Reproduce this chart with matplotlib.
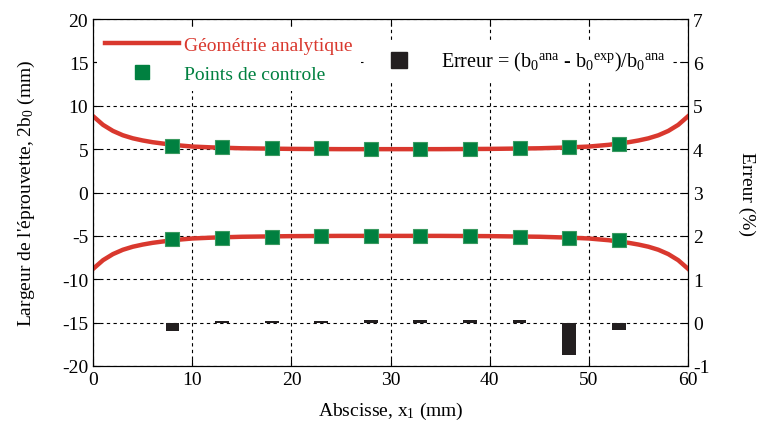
import matplotlib.pyplot as plt
from matplotlib.lines import Line2D

plt.rcParams['font.family'] = ['Liberation Serif', 'DejaVu Serif']
plt.rcParams['mathtext.fontset'] = 'custom'
plt.rcParams['mathtext.rm'] = 'Liberation Serif'
plt.rcParams['mathtext.it'] = 'Liberation Serif'
plt.rcParams['axes.unicode_minus'] = False

# analytic half-width b0 along the specimen
x_curve = [0, 1, 2, 3, 4, 5, 6, 8, 10, 12, 15, 20, 25, 30, 35, 40, 45,
           48, 50, 52, 54, 55, 56, 57, 58, 59, 60]
b0_curve = [8.8, 7.8, 7.1, 6.6, 6.25, 6.0, 5.8, 5.5, 5.3, 5.2, 5.1, 5.03, 5.0,
            5.0, 5.0, 5.03, 5.1, 5.2, 5.3, 5.5, 5.8, 6.0, 6.25, 6.6, 7.1, 7.8, 8.8]

# control points (upper and lower edge)
x_pts = [8, 13, 18, 23, 28, 33, 38, 43, 48, 53]
upper_pts = [5.4, 5.2, 5.1, 5.1, 5.0, 5.0, 5.05, 5.1, 5.2, 5.6]
lower_pts = [-5.4, -5.2, -5.1, -5.0, -5.0, -5.0, -5.0, -5.1, -5.2, -5.5]

# relative error (%)
erreur = [-0.19, 0.04, 0.04, 0.04, 0.07, 0.06, 0.06, 0.07, -0.75, -0.18]

red = '#d9382e'
green = '#008040'

fig = plt.figure(figsize=(7.57, 4.31), dpi=100)
ax = fig.add_axes([0.123, 0.1485, 0.786, 0.805])
ax2 = ax.twinx()

ax.plot(x_curve, b0_curve, color=red, lw=3.2, zorder=3)
ax.plot(x_curve, [-v for v in b0_curve], color=red, lw=3.2, zorder=3)
ax.plot(x_pts, upper_pts, 's', color=green, mec='#3a9a60', mew=0.8, ms=9.5, zorder=4)
ax.plot(x_pts, lower_pts, 's', color=green, mec='#3a9a60', mew=0.8, ms=9.5, zorder=4)

ax2.bar(x_pts, erreur, width=1.4, color='#231f20', zorder=3)

ax.set_xlim(0, 60)
ax.set_ylim(-20, 20)
ax2.set_ylim(-1, 7)
ax.set_xticks(range(0, 61, 10))
ax.set_yticks(range(-20, 21, 5))
ax2.set_yticks(range(-1, 8))

ax.grid(True, color='black', ls=(0, (3, 3)), lw=0.8)
ax.tick_params(direction='in', top=True, labelsize=14, length=5)
ax2.tick_params(direction='in', labelsize=14, length=5)
for a in (ax, ax2):
    for s in a.spines.values():
        s.set_linewidth(0.8)

ax.set_xlabel('Abscisse, x$_1$ (mm)', fontsize=14, labelpad=9)
ax.set_ylabel("Largeur de l'éprouvette, 2b$_0$ (mm)", fontsize=14, labelpad=18)
ax2.set_ylabel('Erreur (%)', fontsize=14, rotation=270, labelpad=33)

h1 = [Line2D([], [], color=red, lw=3.2),
      Line2D([], [], marker='s', ls='none', color=green, ms=9.5)]
leg1 = ax2.legend(h1, ['Géométrie analytique', 'Points de controle'],
                  loc='upper left', bbox_to_anchor=(0.0, 0.985), fontsize=14,
                  frameon=True, facecolor='white', edgecolor='none', framealpha=1,
                  handlelength=3.8, handletextpad=0.3, borderaxespad=0.2,
                  labelspacing=0.6)
leg1.get_texts()[0].set_color(red)
leg1.get_texts()[1].set_color(green)
ax2.add_artist(leg1)

h2 = [Line2D([], [], marker='s', ls='none', color='#231f20', ms=11)]
ax2.legend(h2, ['Erreur = (b$_0$$^{ana}$ - b$_0$$^{exp}$)/b$_0$$^{ana}$'],
           loc='upper left', bbox_to_anchor=(0.452, 0.945), fontsize=14.5,
           frameon=True, facecolor='white', edgecolor='none', framealpha=1,
           handlelength=2.5, borderaxespad=0.2)

fig.savefig('out.png', dpi=100)
